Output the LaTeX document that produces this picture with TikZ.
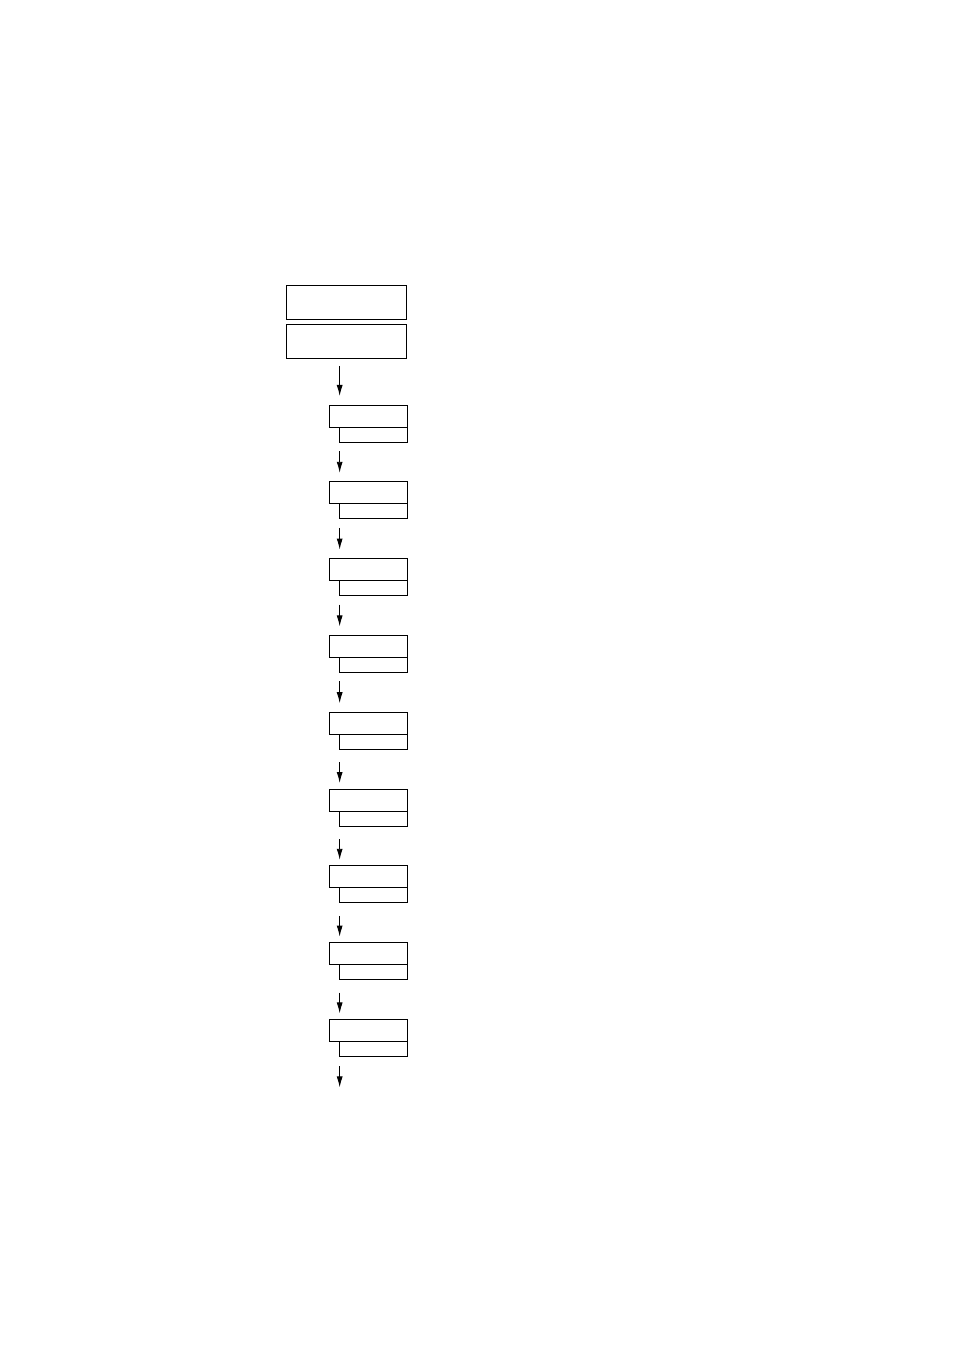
\documentclass[tikz,border=0pt]{standalone}
\usetikzlibrary{arrows.meta}
\usetikzlibrary{positioning}

\begin{document}
\begin{tikzpicture}[
    node distance=41.1pt,
    >={Latex[length=8.25pt,width=4.5pt]},
    line width=0.7pt,
    header/.style={rectangle, draw, minimum width=90pt, minimum height=25.5pt, inner sep=0pt, outer sep=0pt},
    stage/.style={rectangle, draw, minimum width=58.5pt, minimum height=16.5pt, inner sep=0pt, outer sep=0pt},
    substage/.style={rectangle, draw, minimum width=50.5pt, minimum height=11.25pt, inner sep=0pt, outer sep=0pt}
]
\useasboundingbox (0,0) rectangle (715.5pt,-1013.25pt);

% Header boxes
\node[header] (head) at (259.5pt,-226.5pt) {};
\node[header, below=3.75pt of head] (head2) {};

% Stages
\node[stage] (s1) at (276pt,-312pt) {};
\node[substage, below left=0pt of s1.south east] (l1) {};
\node[stage, below=of s1] (s2) {};
\node[substage, below left=0pt of s2.south east] (l2) {};
\node[stage, below=of s2] (s3) {};
\node[substage, below left=0pt of s3.south east] (l3) {};
\node[stage, below=of s3] (s4) {};
\node[substage, below left=0pt of s4.south east] (l4) {};
\node[stage, below=of s4] (s5) {};
\node[substage, below left=0pt of s5.south east] (l5) {};
\node[stage, below=of s5] (s6) {};
\node[substage, below left=0pt of s6.south east] (l6) {};
\node[stage, below=of s6] (s7) {};
\node[substage, below left=0pt of s7.south east] (l7) {};
\node[stage, below=of s7] (s8) {};
\node[substage, below left=0pt of s8.south east] (l8) {};
\node[stage, below=of s8] (s9) {};
\node[substage, below left=0pt of s9.south east] (l9) {};
\coordinate[below=23.25pt of l9.south west] (exit);

% Edges
\draw[->, shorten <=6pt, shorten >=6.75pt] (l1.north west |- head2.south) -- (l1.north west |- s1.north);
\draw[->, shorten <=6.75pt, shorten >=6.75pt] (l1.south west) -- (l1.south west |- s2.north);
\draw[->, shorten <=6.75pt, shorten >=6.75pt] (l2.south west) -- (l2.south west |- s3.north);
\draw[->, shorten <=6.75pt, shorten >=6.75pt] (l3.south west) -- (l3.south west |- s4.north);
\draw[->, shorten <=6.75pt, shorten >=6.75pt] (l4.south west) -- (l4.south west |- s5.north);
\draw[->, shorten <=9.75pt, shorten >=4.5pt] (l5.south west) -- (l5.south west |- s6.north);
\draw[->, shorten <=9.75pt, shorten >=4.5pt] (l6.south west) -- (l6.south west |- s7.north);
\draw[->, shorten <=9.75pt, shorten >=4.5pt] (l7.south west) -- (l7.south west |- s8.north);
\draw[->, shorten <=9.75pt, shorten >=4.5pt] (l8.south west) -- (l8.south west |- s9.north);
\draw[->, shorten <=7.5pt] (l9.south west) -- (exit);

\end{tikzpicture}
\end{document}
